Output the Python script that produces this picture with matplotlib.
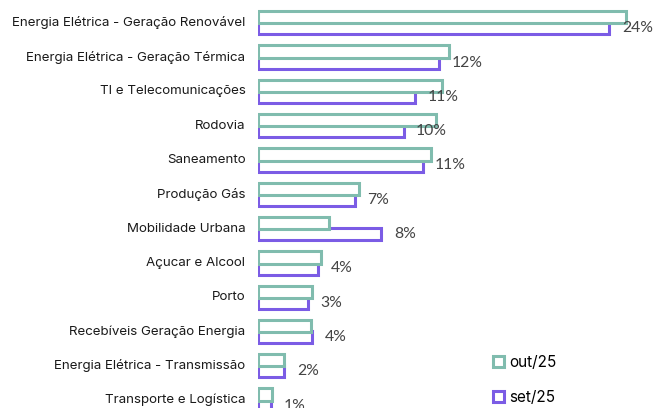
import numpy as np
import matplotlib.pyplot as plt
import matplotlib.transforms as mtransforms
from matplotlib.patches import Rectangle

# categorias (de cima para baixo)
categorias = ["Energia Elétrica - Geração Renovável", "Energia Elétrica - Geração Térmica",
              "TI e Telecomunicações", "Rodovia", "Saneamento", "Produção Gás",
              "Mobilidade Urbana", "Açucar e Alcool", "Porto", "Recebíveis Geração Energia",
              "Energia Elétrica - Transmissão", "Transporte e Logística"]
out25 = [25.0, 13.0, 12.5, 12.1, 11.8, 6.9, 4.8, 4.3, 3.7, 3.6, 1.8, 0.95]
set25 = [23.9, 12.3, 10.7, 9.9, 11.2, 6.6, 8.4, 4.1, 3.4, 3.7, 1.8, 0.9]

cor_out = '#80bcae'
cor_set = '#7b5ce5'

fig = plt.figure(figsize=(6.54, 4.08), dpi=100)
ax = fig.add_axes([258/654, 0, 396/654, 1])

y = np.arange(len(categorias))
h = 0.36
d = 0.16
# set/25 desenhado primeiro, out/25 por cima
ax.barh(y + d, set25, height=h, color='white', edgecolor=cor_set, linewidth=2.2)
ax.barh(y - d, out25, height=h, color='white', edgecolor=cor_out, linewidth=2.2)

for yi, v in zip(y, set25):
    ax.text(v + 0.85, yi + d, f"{v:.0f}%", va='center', ha='left',
            fontsize=11.3, color='#444444', family='Lato')

ax.set_xlim(0, 396/14.7)
ax.set_ylim(11.23, -0.662)
ax.set_yticks(y)
ax.set_yticklabels(categorias, fontsize=9.6, family='Inter', color='#1a1a1a')
ax.tick_params(axis='y', length=0, pad=9)
# sobe um pouco os rotulos
desloc = mtransforms.ScaledTranslation(0, 1.5/100, fig.dpi_scale_trans)
for t in ax.get_yticklabels():
    t.set_transform(t.get_transform() + desloc)
ax.set_xticks([])
for s in ax.spines.values():
    s.set_visible(False)

h1 = Rectangle((0, 0), 1, 1, facecolor='white', edgecolor=cor_out, linewidth=2.2)
h2 = Rectangle((0, 0), 1, 1, facecolor='white', edgecolor=cor_set, linewidth=2.2)
fig.legend([h1, h2], ["out/25", "set/25"], loc='upper left',
           bbox_to_anchor=(479/654, 1 - 341/408), frameon=False,
           handlelength=0.75, handleheight=0.75, handletextpad=0.3,
           labelspacing=1.3, prop={'family': 'Inter', 'size': 11})

fig.savefig('out.png', dpi=100)
